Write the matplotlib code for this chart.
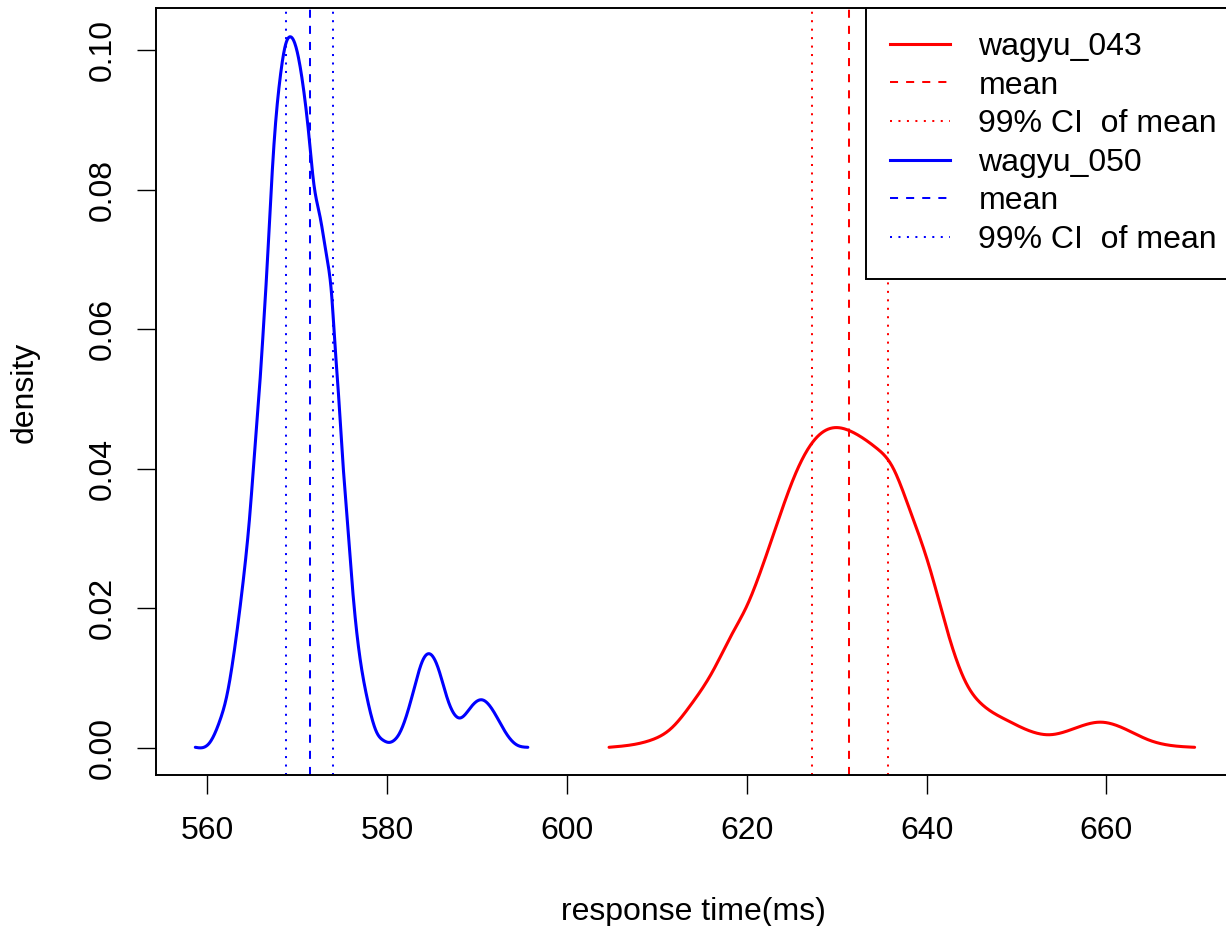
import numpy as np
import matplotlib
matplotlib.use("Agg")
import matplotlib.pyplot as plt
from matplotlib.lines import Line2D

plt.rcParams['font.family'] = ['Liberation Sans', 'DejaVu Sans']

# --- density curves ---
x_050 = [558.7, 560.26, 561.45, 562.19, 563.11, 564.04, 564.78, 565.34, 565.86, 566.26,
         566.7, 567.2, 567.56, 568.1, 568.68, 569.23, 569.98, 570.7, 571.38, 571.82,
         572.57, 573.31, 573.87, 574.24, 574.55, 574.98, 575.54, 576.1, 576.83, 577.76,
         578.88, 579.6, 580.2, 580.8, 581.4, 582.88, 584.0, 584.73, 585.66, 586.77,
         588.14, 589.37, 590.59, 591.78, 593.26, 594.37, 595.67]
d_050 = [0.0001, 0.0007, 0.0040, 0.0074, 0.0146, 0.0241, 0.0337, 0.0432, 0.0520, 0.0599,
         0.0694, 0.0814, 0.0885, 0.0957, 0.1005, 0.1019, 0.1000, 0.0947, 0.0871, 0.0814,
         0.0761, 0.0704, 0.0647, 0.0575, 0.0520, 0.0432, 0.0337, 0.0241, 0.0146, 0.0074,
         0.0022, 0.0011, 0.0008, 0.0011, 0.0021, 0.0078, 0.0126, 0.0135, 0.0116, 0.0069,
         0.0043, 0.0059, 0.0069, 0.0054, 0.0021, 0.0005, 0.0001]

x_043 = [604.7, 609.3, 611.6, 613.8, 616.1, 618.4, 620.0, 621.6, 623.4, 625.3,
         627.1, 628.5, 629.8, 631.7, 634.4, 636.2, 638.0, 640.3, 642.6, 644.4,
         646.2, 648.9, 653.7, 659.4, 664.8, 669.8]
d_043 = [0.0001, 0.0011, 0.0028, 0.0062, 0.0107, 0.0164, 0.0203, 0.0255, 0.0322, 0.0389,
         0.0434, 0.0453, 0.0459, 0.0453, 0.0430, 0.0403, 0.0346, 0.0260, 0.0155, 0.0093,
         0.0062, 0.0040, 0.0019, 0.0037, 0.0011, 0.0001]

# mean and 99% CI of mean
mean_043, ci_043 = 631.4, (627.3, 635.7)
mean_050, ci_050 = 571.45, (568.8, 574.05)

names = ['wagyu_043', 'wagyu_050']
colors = ['red', 'blue']


def spline(xs, ys, n=800):
    # natural cubic spline through the read points
    x = np.asarray(xs, float)
    y = np.asarray(ys, float)
    k = len(x)
    h = np.diff(x)
    A = np.zeros((k, k))
    b = np.zeros(k)
    A[0, 0] = A[-1, -1] = 1
    for i in range(1, k - 1):
        A[i, i - 1] = h[i - 1]
        A[i, i] = 2 * (h[i - 1] + h[i])
        A[i, i + 1] = h[i]
        b[i] = 3 * ((y[i + 1] - y[i]) / h[i] - (y[i] - y[i - 1]) / h[i - 1])
    c = np.linalg.solve(A, b)
    xx = np.linspace(x[0], x[-1], n)
    j = np.clip(np.searchsorted(x, xx) - 1, 0, k - 2)
    dx = xx - x[j]
    bb = (y[j + 1] - y[j]) / h[j] - h[j] * (2 * c[j] + c[j + 1]) / 3
    dd = (c[j + 1] - c[j]) / (3 * h[j])
    yy = y[j] + bb * dx + c[j] * dx ** 2 + dd * dx ** 3
    return xx, np.maximum(yy, 0)


W, H = 1226, 926
fig = plt.figure(figsize=(W / 100, H / 100), dpi=100)
ax = fig.add_axes([156 / W, 1 - 775 / H, 1071 / W, 767 / H])

lw_curve = 2.2
lw_v = 1.45
dashed = (0, (4, 4))
dotted = (0, (1, 3.2))
fs = 23

for xs, ds, m, ci, c in [(x_043, d_043, mean_043, ci_043, colors[0]),
                         (x_050, d_050, mean_050, ci_050, colors[1])]:
    sx, sy = spline(xs, ds)
    ax.plot(sx, sy, color=c, lw=lw_curve, solid_capstyle='round')
    ax.axvline(m, color=c, lw=lw_v, linestyle=dashed)
    for v in ci:
        ax.axvline(v, color=c, lw=lw_v, linestyle=dotted)

ax.set_xlim(554.33, 673.4)
ax.set_ylim(-0.00387, 0.10602)
ax.set_xticks([560, 580, 600, 620, 640, 660])
ax.set_yticks([0.00, 0.02, 0.04, 0.06, 0.08, 0.10])
ax.set_yticklabels(['0.00', '0.02', '0.04', '0.06', '0.08', '0.10'], rotation=90, va='center')
ax.tick_params(axis='both', length=13.7, width=1.0, labelsize=fs, color='black')
ax.tick_params(axis='x', pad=16)
ax.tick_params(axis='y', pad=14)
for s in ax.spines.values():
    s.set_linewidth(1.4)

fig.text(693 / W, 1 - 912 / H, 'response time(ms)', ha='center', va='center', fontsize=fs)
fig.text(25 / W, 1 - 392 / H, 'density', ha='center', va='center', rotation=90, fontsize=fs)

handles = []
labels = []
for n, c in zip(names, colors):
    handles += [Line2D([], [], color=c, lw=lw_curve),
                Line2D([], [], color=c, lw=lw_v, linestyle=dashed),
                Line2D([], [], color=c, lw=lw_v, linestyle=dotted)]
    labels += [n, 'mean', '99% CI  of mean']
leg = ax.legend(handles, labels, loc='upper right', bbox_to_anchor=(1 + 14 / 1071, 1.0),
                fontsize=fs, frameon=True, fancybox=False, edgecolor='black',
                framealpha=1, borderaxespad=0, handlelength=1.88, handletextpad=0.88,
                labelspacing=0.27, borderpad=0.75)
leg.get_frame().set_linewidth(1.4)

fig.savefig('out.png', dpi=100)
